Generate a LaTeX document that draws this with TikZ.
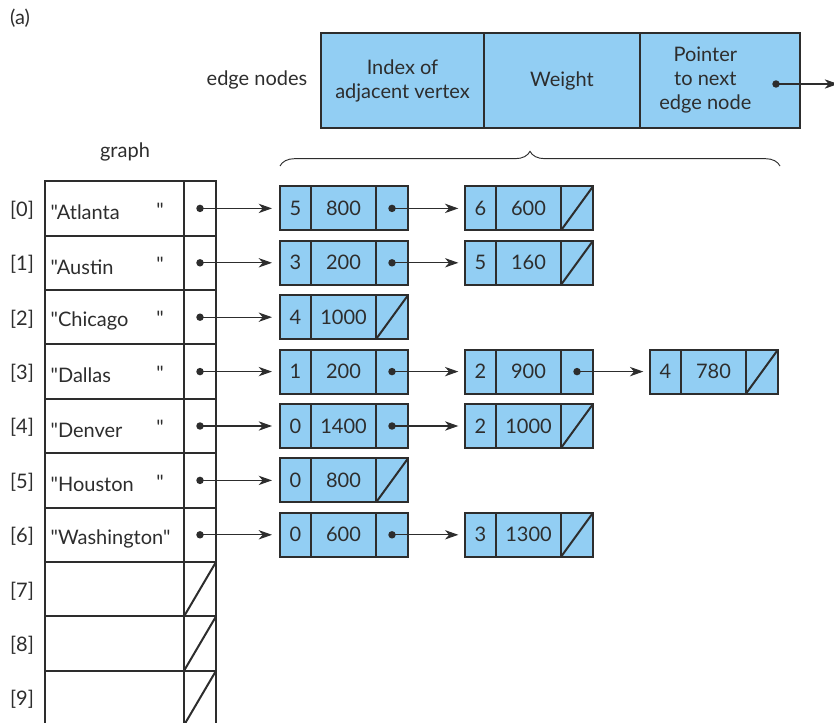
\documentclass[tikz,border=0pt]{standalone}
\usepackage{fontspec}
\newfontfamily\labelfont{Lato}
\usetikzlibrary{arrows.meta,decorations.pathreplacing}
\definecolor{nodeblue}{RGB}{146,206,243}
\definecolor{linegray}{RGB}{45,45,45}

\begin{document}
\begin{tikzpicture}[x=0.75pt,y=0.75pt,yscale=-1,xscale=1,
  font=\labelfont\fontsize{15}{18}\selectfont, text=linegray,
  box/.style={draw=linegray,line width=1.5pt,inner sep=0pt,outer sep=0pt,anchor=west},
  ecell/.style={box,fill=nodeblue,minimum height=33pt},
  gcell/.style={box,minimum height=40.8pt},
  hcell/.style={box,fill=nodeblue,minimum height=71.25pt,align=center},
  nullbar/.style={draw=linegray,line width=1.5pt},
  ptr/.style={draw=linegray,line width=0.8pt,shorten >=5pt,-{Stealth[length=10pt,width=7pt,inset=3pt]}},
  dot/.style={fill=linegray}]
\useasboundingbox (0,0) rectangle (834,723);

% label
\node (lbla) at (20,18) {(a)};

% edge node layout
\node[hcell,minimum width=122.25pt] (hi) at (321,80.5) {Index of\\adjacent vertex};
\node[hcell,minimum width=117pt] (hw) at (hi.east) {Weight};
\node[hcell,minimum width=120pt] (hp) at (hw.east) {};
\node[align=center] (hpt) at ([xshift=-11pt]hp.center) {Pointer\\to next\\edge node};
\node (hlbl) at (257,80) {edge nodes};
\coordinate (hdot) at (776,84);
\coordinate (hend) at (838,84);
\fill[dot] (hdot) circle (2.8pt);
\draw[ptr,shorten >=0pt] (hdot) -- (hend);

% brace
\draw[linegray,line width=0.7pt,decorate,decoration={brace,amplitude=11pt}] (280,166) -- (780,166);

% graph array
\node (glbl) at (125,152) {graph};
\foreach \i in {0,...,9}{
  \node[gcell,minimum width=104.25pt] (g\i) at (45,{208.4+54.4*\i}) {};
  \node[gcell,minimum width=24pt] (gp\i) at (g\i.east) {};
  \node (gidx\i) at (22,{210+54.4*\i}) {[\i]};
}
\foreach \i/\nm in {0/Atlanta,1/Austin,2/Chicago,3/Dallas,4/Denver,5/Houston}{
  \node[anchor=west,inner sep=0pt] (gn\i) at ([xshift=4pt,yshift=3pt]g\i.west) {"\nm};
  \node (gq\i) at (160,{210+54.4*\i}) {"};
}
\node[anchor=west,inner sep=0pt] (gn6) at ([xshift=4pt,yshift=3pt]g6.west) {"Washington"};
\foreach \i in {7,8,9}
  \draw[nullbar] (gp\i.south west) -- (gp\i.north east);

% edge nodes
\foreach \r/\c/\v/\w/\nx in {0/0/5/800/1,0/1/6/600/0,1/0/3/200/1,1/1/5/160/0,2/0/4/1000/0,
  3/0/1/200/1,3/1/2/900/1,3/2/4/780/0,4/0/0/1400/1,4/1/2/1000/0,5/0/0/800/0,6/0/0/600/1,6/1/3/1300/0}{
  \node[ecell,minimum width=23.25pt] (e\r\c-i) at ({280+185*\c},{208.4+54.4*\r}) {\v};
  \node[ecell,minimum width=48.75pt] (e\r\c-w) at (e\r\c-i.east) {\w};
  \node[ecell,minimum width=24pt] (e\r\c-p) at (e\r\c-w.east) {};
  \ifnum\nx=0 \draw[nullbar] (e\r\c-p.south west) -- (e\r\c-p.north east); \fi
}

% pointers
\foreach \i in {0,...,6}{
  \fill[dot] (gp\i.center) circle (2.8pt);
  \draw[ptr,shorten >=6pt] (gp\i.center) -- (e\i0-i.west);
}
\foreach \r/\c/\d in {0/0/1,1/0/1,3/0/1,3/1/2,4/0/1,6/0/1}{
  \fill[dot] (e\r\c-p.center) circle (2.8pt);
  \draw[ptr] (e\r\c-p.center) -- (e\r\d-i.west);
}

\end{tikzpicture}
\end{document}
